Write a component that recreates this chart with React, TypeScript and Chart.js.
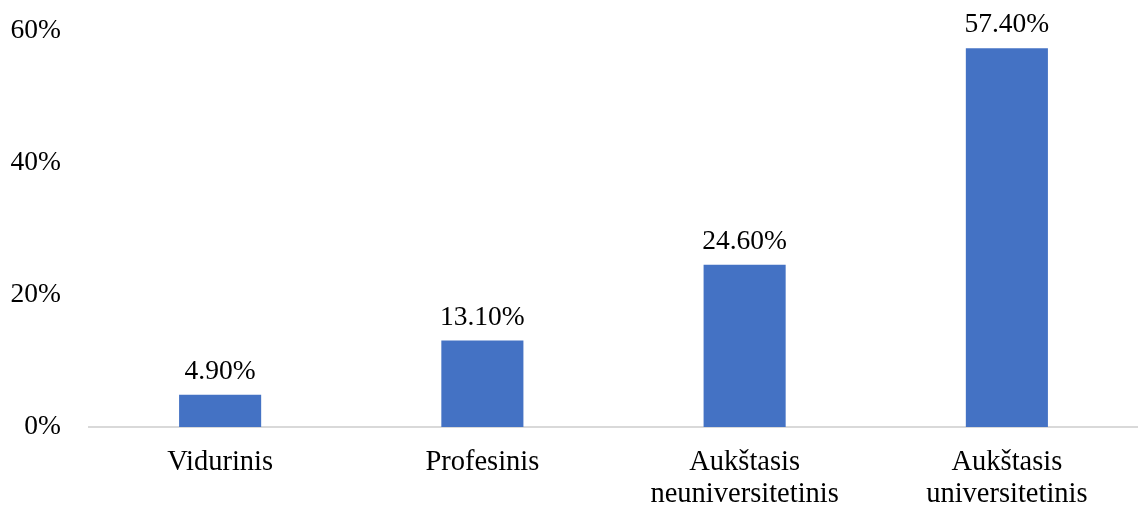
import React, { useEffect, useRef } from "react";
import { Chart, registerables } from "chart.js";

Chart.register(...registerables);

const categories: string[][] = [
  ["Vidurinis"],
  ["Profesinis"],
  ["Aukštasis", "neuniversitetinis"],
  ["Aukštasis", "universitetinis"],
];
const shares: number[] = [4.9, 13.1, 24.6, 57.4];
const yTicks: number[] = [0, 20, 40, 60];

const FONT = "'Liberation Serif', 'Times New Roman', serif";

// Writes each bar's share just above its top edge.
const valueLabels = {
  id: "valueLabels",
  afterDatasetsDraw(chart: any) {
    const { ctx } = chart;
    const meta = chart.getDatasetMeta(0);
    ctx.save();
    ctx.font = `27.5px ${FONT}`;
    ctx.fillStyle = "#000000";
    ctx.textAlign = "center";
    ctx.textBaseline = "alphabetic";
    meta.data.forEach((bar: any, i: number) => {
      ctx.fillText(shares[i].toFixed(2) + "%", bar.x, bar.y - 16);
    });
    ctx.restore();
  },
};

export default function App() {
  const canvasRef = useRef<HTMLCanvasElement | null>(null);

  useEffect(() => {
    if (!canvasRef.current) return;
    const chart = new Chart(canvasRef.current, {
      type: "bar",
      data: {
        labels: categories,
        datasets: [
          {
            data: shares,
            backgroundColor: "#4472C4",
            borderWidth: 0,
            barPercentage: 0.313,
            categoryPercentage: 1,
          },
        ],
      },
      options: {
        responsive: false,
        animation: false,
        layout: { padding: { top: 31, left: 0, right: 0, bottom: 0 } },
        plugins: {
          legend: { display: false },
          tooltip: { enabled: false },
        },
        scales: {
          x: {
            grid: { display: false, drawTicks: false },
            border: { display: true, color: "#d9d9d9", width: 2 },
            ticks: {
              color: "#000000",
              font: { family: FONT, size: 28.5, lineHeight: 1.12 },
              padding: 20,
              maxRotation: 0,
              autoSkip: false,
            },
            afterFit(scale: any) {
              scale.height = 81;
              scale.paddingLeft = 0;
              scale.paddingRight = 0;
            },
          },
          y: {
            min: 0,
            max: 60,
            grid: { display: false, drawTicks: false },
            border: { display: false },
            afterBuildTicks(scale: any) {
              scale.ticks = yTicks.map((v) => ({ value: v }));
            },
            ticks: {
              color: "#000000",
              font: { family: FONT, size: 27.5 },
              padding: 28,
              callback: (v: any) => v + "%",
            },
            afterFit(scale: any) {
              scale.width = 89;
              scale.paddingTop = 0;
              scale.paddingBottom = 0;
            },
          },
        },
      },
      plugins: [valueLabels],
    });
    return () => chart.destroy();
  }, []);

  return (
    <div style={{ position: "fixed", left: 0, top: 0, width: 1138, height: 508, background: "#ffffff" }}>
      <canvas ref={canvasRef} width={1138} height={508} style={{ display: "block" }} />
    </div>
  );
}
